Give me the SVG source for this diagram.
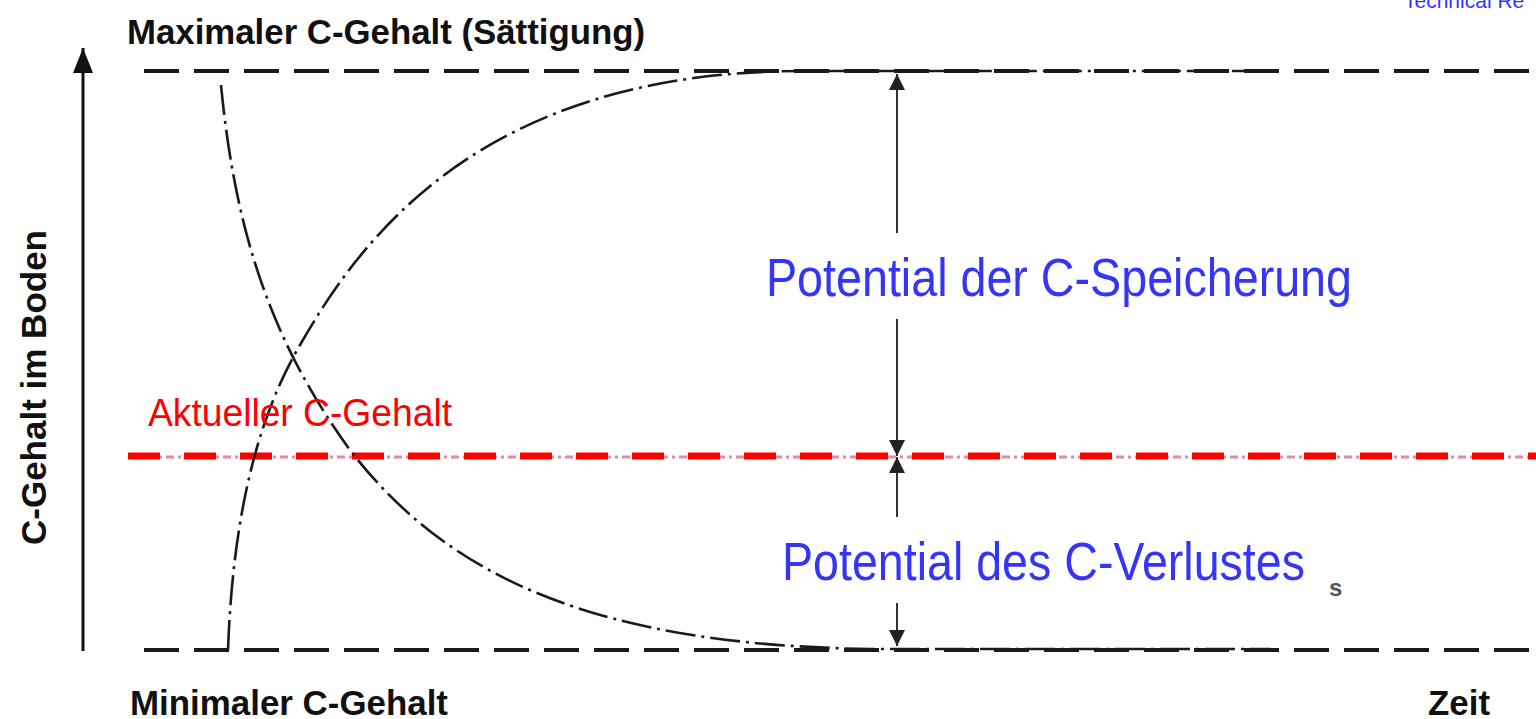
<svg xmlns="http://www.w3.org/2000/svg" width="1536" height="719" viewBox="0 0 1536 719">
  <defs>
    <style>
      .lbl { font-family: "Liberation Sans Narrow", "Liberation Sans", Arial, sans-serif; font-weight: bold; fill: #111; }
      .blue { font-family: "Liberation Sans Narrow", "Liberation Sans", Arial, sans-serif; fill: #3535f5; }
      .red { font-family: "Liberation Sans Narrow", "Liberation Sans", Arial, sans-serif; fill: #ff0000; }
      .limit { stroke: #1a1a1a; stroke-width: 4; stroke-dasharray: 35 15; fill: none; }
      .curve { stroke: #1a1a1a; stroke-width: 2.6; stroke-dasharray: 30 6 3 6; fill: none; }
      .dim { stroke: #333; stroke-width: 2; fill: none; }
    </style>
    <marker id="ah" viewBox="0 0 16 18" refX="16" refY="9" markerWidth="16" markerHeight="18" markerUnits="userSpaceOnUse" orient="auto">
      <path d="M0,1 L16,9 L0,17 Z" fill="#222"/>
    </marker>
    <marker id="ahBig" viewBox="0 0 25 20" refX="25" refY="10" markerWidth="25" markerHeight="20" markerUnits="userSpaceOnUse" orient="auto">
      <path d="M0,0 L25,10 L0,20 Z" fill="#111"/>
    </marker>
  </defs>

  <rect width="1536" height="719" fill="#ffffff"/>

  <g id="connectors">
    <line x1="83" y1="651" x2="83" y2="48" stroke="#111" stroke-width="3" marker-end="url(#ahBig)"/>
    <line class="limit" x1="144" y1="71" x2="1536" y2="71"/>
    <line class="limit" x1="144" y1="650" x2="1536" y2="650"/>
    <line x1="128" y1="457" x2="1536" y2="457" stroke="#e58a96" stroke-width="3" stroke-dasharray="8 4 3 4"/>
    <line x1="128" y1="456" x2="1536" y2="456" stroke="#ff0000" stroke-width="7" stroke-dasharray="32 24"/>
    <path class="curve" d="M221,85 C235,230 270,340 350,450 C450,580 600,645 870,649 L1270,649"/>
    <path class="curve" d="M228,650 C232,540 250,430 300,345 C360,240 480,72 800,71 L1250,71"/>
    <line class="dim" x1="897" y1="233" x2="897" y2="74" marker-end="url(#ah)"/>
    <line class="dim" x1="897" y1="319" x2="897" y2="456" marker-end="url(#ah)"/>
    <line class="dim" x1="897" y1="517" x2="897" y2="457" marker-end="url(#ah)"/>
    <line class="dim" x1="897" y1="603" x2="897" y2="646" marker-end="url(#ah)"/>
  </g>

  <g id="label-max"><text class="lbl" x="127" y="44" font-size="35" textLength="518" lengthAdjust="spacingAndGlyphs">Maximaler C-Gehalt (Sättigung)</text></g>
  <g id="label-min"><text class="lbl" x="130" y="715" font-size="35" textLength="318" lengthAdjust="spacingAndGlyphs">Minimaler C-Gehalt</text></g>
  <g id="label-zeit"><text class="lbl" x="1428" y="715" font-size="35" textLength="62" lengthAdjust="spacingAndGlyphs">Zeit</text></g>
  <g id="label-yaxis"><text class="lbl" transform="translate(46,545) rotate(-90)" x="0" y="0" font-size="35" textLength="315" lengthAdjust="spacingAndGlyphs">C-Gehalt im Boden</text></g>
  <g id="label-current"><text class="red" x="148" y="426" font-size="39" textLength="304" lengthAdjust="spacingAndGlyphs">Aktueller C-Gehalt</text></g>
  <g id="label-storage"><text class="blue" x="766" y="296" font-size="54" textLength="586" lengthAdjust="spacingAndGlyphs">Potential der C-Speicherung</text></g>
  <g id="label-loss"><text class="blue" x="782" y="580" font-size="54" textLength="523" lengthAdjust="spacingAndGlyphs">Potential des C-Verlustes</text></g>
  <g id="label-s"><text x="1329" y="596" font-family="Liberation Sans, Arial, sans-serif" font-weight="bold" font-size="24" fill="#555">s</text></g>
  <g id="label-tech"><text x="1404" y="8" font-family="Liberation Sans, Arial, sans-serif" font-size="21" fill="#3535f5">Technical Re</text></g>
</svg>
